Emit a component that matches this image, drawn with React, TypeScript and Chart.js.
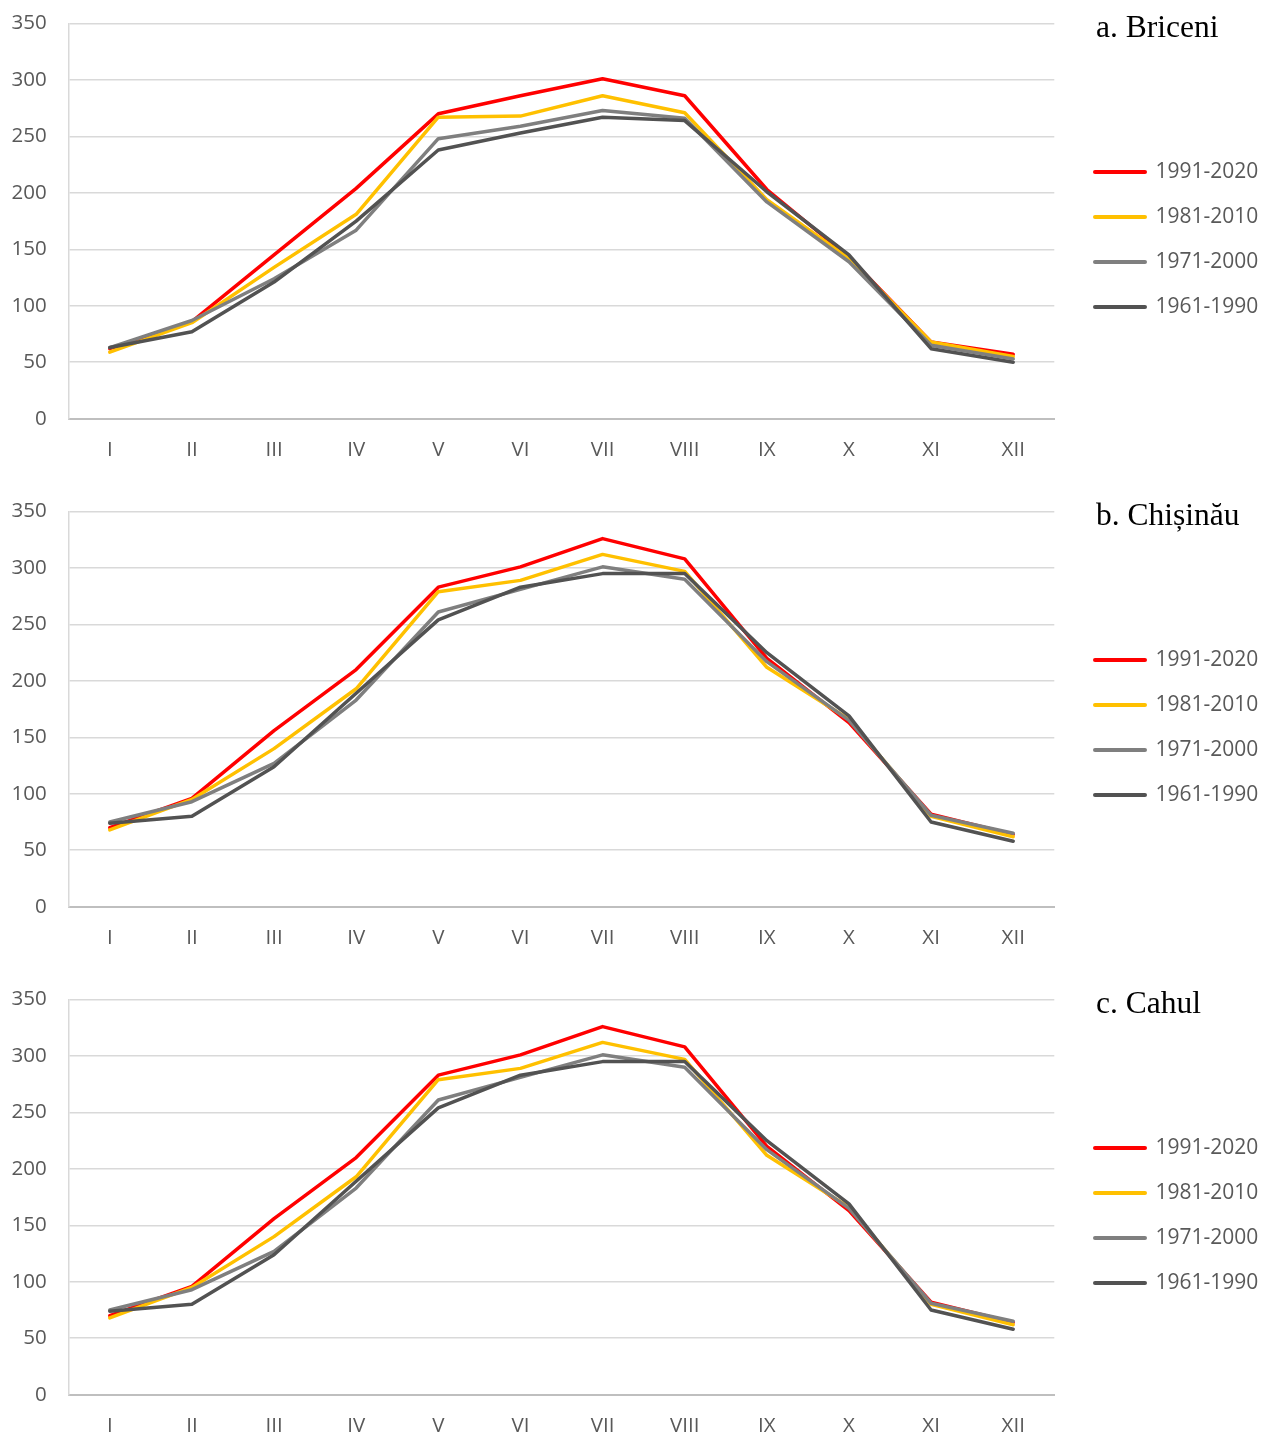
import React, { useEffect, useRef } from "react";
import { Chart, registerables } from "chart.js";

Chart.register(...registerables);

// ---- data ----
const months = ["I", "II", "III", "IV", "V", "VI", "VII", "VIII", "IX", "X", "XI", "XII"];
const periods = ["1991-2020", "1981-2010", "1971-2000", "1961-1990"];
const lineColors = ["#FF0000", "#FFC000", "#7F7F7F", "#525252"];
const yMin = 0;
const yMax = 350;
const yStep = 50;

const briceni1991 = [62, 86, 145, 204, 270, 286, 301, 286, 203, 143, 68, 57];
const briceni1981 = [59, 85, 134, 181, 267, 268, 286, 271, 194, 142, 68, 55];
const briceni1971 = [63, 87, 124, 167, 248, 259, 273, 266, 192, 139, 65, 53];
const briceni1961 = [63, 77, 121, 175, 238, 253, 267, 264, 201, 145, 62, 50];

const chisinau1991 = [70, 96, 156, 210, 283, 301, 326, 308, 220, 163, 82, 64];
const chisinau1981 = [68, 95, 140, 193, 279, 289, 312, 297, 212, 166, 80, 62];
const chisinau1971 = [75, 93, 127, 183, 261, 281, 301, 290, 217, 165, 81, 65];
const chisinau1961 = [74, 80, 124, 189, 254, 283, 295, 295, 225, 169, 75, 58];

const cahul1991 = [70, 96, 156, 210, 283, 301, 326, 308, 220, 163, 82, 64];
const cahul1981 = [68, 95, 140, 193, 279, 289, 312, 297, 212, 166, 80, 62];
const cahul1971 = [75, 93, 127, 183, 261, 281, 301, 290, 217, 165, 81, 65];
const cahul1961 = [74, 80, 124, 189, 254, 283, 295, 295, 225, 169, 75, 58];

const panelTitles = ["a. Briceni", "b. Chișinău", "c. Cahul"];

// ---- layout constants ----
const W = 1261;
const PANEL_STEP = 488;
const PLOT_TOP = 23.5;
const PLOT_BOTTOM = 418.7;
const PLOT_LEFT = 68.7;
const PLOT_RIGHT = 1054.3;
const LEGEND_LEFT = 1071;

const tickColor = "#595959";

const cornerTitle = {
  id: "cornerTitle",
  afterDraw(chart: any, _args: any, opts: any) {
    const ctx = chart.ctx;
    ctx.save();
    ctx.font = '31.5px "Liberation Serif"';
    ctx.fillStyle = "#000000";
    ctx.textAlign = "left";
    ctx.textBaseline = "alphabetic";
    ctx.fillText(opts.text, opts.x, opts.y);
    ctx.restore();
  },
};

function Panel({ title, series, height, top }: { title: string; series: number[][]; height: number; top: number }) {
  const ref = useRef<HTMLCanvasElement | null>(null);

  useEffect(() => {
    if (!ref.current) return;
    const datasets = series.map((vals, i) => ({
      label: periods[i],
      data: vals,
      borderColor: lineColors[i],
      backgroundColor: lineColors[i],
      borderWidth: 3.5,
      borderJoinStyle: "round" as const,
      borderCapStyle: "round" as const,
      pointRadius: 0,
      pointHoverRadius: 0,
      fill: false,
      tension: 0,
      order: series.length - i,
    }));

    const chart = new Chart(ref.current, {
      type: "line",
      data: { labels: months, datasets },
      plugins: [cornerTitle],
      options: {
        responsive: false,
        animation: false,
        events: [],
        layout: {
          padding: { top: PLOT_TOP, bottom: 0, left: 0, right: 0 },
        },
        scales: {
          x: {
            type: "category",
            offset: true,
            grid: { display: false, drawTicks: false },
            border: { display: true, color: "#BFBFBF", width: 2 },
            ticks: {
              color: tickColor,
              font: { family: "Open Sans", size: 20.5 },
              padding: 19.5,
              maxRotation: 0,
              autoSkip: false,
            },
            afterFit: (s: any) => {
              s.height = height - PLOT_BOTTOM;
            },
          },
          y: {
            type: "linear",
            min: yMin,
            max: yMax,
            ticks: {
              stepSize: yStep,
              color: tickColor,
              font: { family: "Open Sans", size: 20.5 },
              padding: 22,
            },
            grid: { color: "#D9D9D9", lineWidth: 1.5, drawTicks: false },
            border: { display: true, color: "#D9D9D9", width: 1.5 },
            afterFit: (s: any) => {
              s.width = PLOT_LEFT;
              s.paddingTop = 0;
              s.paddingBottom = 0;
            },
          },
          yR: {
            type: "linear",
            axis: "y",
            position: "right",
            display: true,
            ticks: { display: false },
            grid: { display: false, drawTicks: false },
            border: { display: false },
            afterFit: (s: any) => {
              s.width = LEGEND_LEFT - PLOT_RIGHT;
              s.paddingTop = 0;
              s.paddingBottom = 0;
            },
          },
        },
        plugins: {
          legend: {
            display: true,
            position: "right",
            align: "center",
            fullSize: false,
            maxWidth: W - LEGEND_LEFT,
            title: {
              display: true,
              text: " ",
              font: { family: "Open Sans", size: 10, lineHeight: 1.2 },
              padding: { top: 0, bottom: 24.8 },
            },
            labels: {
              usePointStyle: true,
              pointStyle: "line",
              pointStyleWidth: 50,
              padding: 24,
              color: tickColor,
              font: { family: "Open Sans", size: 21 },
              sort: (a: any, b: any) => a.datasetIndex - b.datasetIndex,
              generateLabels: (c: any) => {
                const items = Chart.defaults.plugins.legend.labels.generateLabels(c);
                return items.map((it: any) => ({ ...it, lineWidth: 4, lineCap: "round", pointStyle: "line" }));
              },
            },
          },
          tooltip: { enabled: false },
          cornerTitle: { text: title, x: 1096, y: 37 },
        } as any,
      },
    });
    return () => chart.destroy();
  }, [title, series, height]);

  return (
    <div style={{ position: "absolute", left: 0, top, width: W, height }}>
      <canvas ref={ref} width={W} height={height} style={{ width: W, height, display: "block" }} />
    </div>
  );
}

export default function App() {
  const panels = [
    [briceni1991, briceni1981, briceni1971, briceni1961],
    [chisinau1991, chisinau1981, chisinau1971, chisinau1961],
    [cahul1991, cahul1981, cahul1971, cahul1961],
  ];
  const totalH = 1436;
  return (
    <div
      style={{
        position: "absolute",
        left: 0,
        top: 0,
        width: W,
        height: totalH,
        overflow: "hidden",
        background: "#ffffff",
      }}
    >
      {panels.map((s, i) => {
        const top = i * PANEL_STEP;
        const h = Math.min(PANEL_STEP, totalH - top);
        return <Panel key={i} title={panelTitles[i]} series={s} height={h} top={top} />;
      })}
    </div>
  );
}
